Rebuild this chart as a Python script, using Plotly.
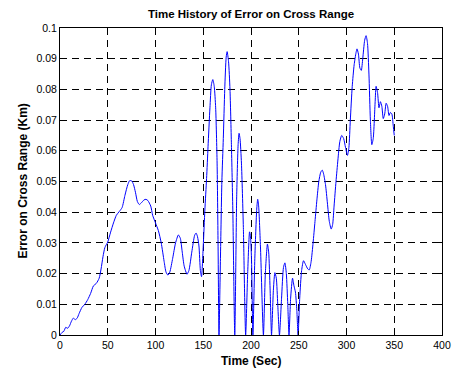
import plotly.graph_objects as go

time_sec = [0, 2, 4, 6, 8, 10, 12, 14, 16, 18, 20, 23, 26, 29, 32, 35, 38, 41, 43, 45,
            47, 50, 53, 56, 59, 62, 65, 68, 71, 73, 75, 77, 79, 81, 83, 85, 88, 90, 92, 95,
            97, 100, 103, 106, 109, 111, 113, 115, 118, 121, 124, 126, 128, 130, 133, 135, 138, 141, 142.5, 144,
            145.5, 147, 148.2, 150, 151.7, 153.5, 155, 157, 158.5, 160, 161.5, 163, 164.5, 165.5, 166.5, 168, 169.5, 171, 172.5, 174,
            175, 176.5, 178, 179.5, 181, 183, 185, 186.5, 187.5, 188.5, 190, 192, 194.4, 196.5, 198.5, 199.5, 200.5, 202, 204, 206,
            207, 208, 210, 213, 215, 217.2, 218.5, 220, 221.5, 223.5, 225, 226.5, 228, 229.8, 232, 234, 235.5, 237, 238.5, 239.8,
            241.5, 243.5, 245, 246.5, 248, 249.3, 251, 253, 255, 257, 259.5, 261, 263, 265, 267, 269, 271, 273, 274.6, 276,
            278, 280, 282, 284, 285.5, 287, 289, 291, 293, 295, 297, 299, 301, 302.5, 304, 306, 308, 310, 311, 312.5,
            314, 315.5, 317, 319, 320.5, 322, 323.5, 325, 326.5, 328, 330, 331, 332.5, 334, 335.5, 337, 338.5, 340, 341.5, 343,
            344.5, 346, 347.5, 349, 350]

error_km = [0.0, 0.0008, 0.0012, 0.0025, 0.0022, 0.0030, 0.0045, 0.0055, 0.0050, 0.0055, 0.0070, 0.0090, 0.0100, 0.0115, 0.0135, 0.0160, 0.0168, 0.0185, 0.0215, 0.0255,
            0.0285, 0.0303, 0.0335, 0.0365, 0.0390, 0.0402, 0.0415, 0.0455, 0.0490, 0.0503, 0.0502, 0.0490, 0.0465, 0.0435, 0.0425, 0.0430, 0.0440, 0.0442, 0.0438, 0.0420,
            0.0390, 0.0365, 0.0340, 0.0300, 0.0240, 0.0205, 0.0195, 0.0205, 0.0250, 0.0300, 0.0326, 0.0315, 0.0270, 0.0225, 0.0198, 0.0210, 0.0270, 0.0325, 0.0332, 0.0320,
            0.0290, 0.0210, 0.0190, 0.0290, 0.0407, 0.0510, 0.0613, 0.0740, 0.0815, 0.0832, 0.0810, 0.0740, 0.0560, 0.0300, 0.0, 0.0250, 0.0500, 0.0640, 0.0800, 0.0905,
            0.0923, 0.0890, 0.0800, 0.0620, 0.0400, 0.0, 0.0450, 0.0620, 0.0657, 0.0640, 0.0560, 0.0350, 0.0, 0.0200, 0.0336, 0.0320, 0.0250, 0.0, 0.0250, 0.0410,
            0.0442, 0.0420, 0.0280, 0.0, 0.0200, 0.0296, 0.0270, 0.0150, 0.0, 0.0150, 0.0203, 0.0185, 0.0100, 0.0, 0.0120, 0.0220, 0.0235, 0.0200, 0.0100, 0.0,
            0.0120, 0.0185, 0.0160, 0.0140, 0.0080, 0.0, 0.0120, 0.0210, 0.0242, 0.0230, 0.0215, 0.0212, 0.0240, 0.0300, 0.0370, 0.0440, 0.0500, 0.0530, 0.0537, 0.0525,
            0.0490, 0.0430, 0.0370, 0.0345, 0.0360, 0.0420, 0.0500, 0.0570, 0.0630, 0.0650, 0.0640, 0.0610, 0.0585, 0.0610, 0.0700, 0.0810, 0.0880, 0.0920, 0.0932, 0.0915,
            0.0870, 0.0862, 0.0900, 0.0960, 0.0975, 0.0950, 0.0850, 0.0700, 0.0620, 0.0640, 0.0760, 0.0810, 0.0790, 0.0740, 0.0760, 0.0745, 0.0705, 0.0720, 0.0755, 0.0745,
            0.0715, 0.0725, 0.0720, 0.0680, 0.0650]

x_ticks = [0, 50, 100, 150, 200, 250, 300, 350, 400]
y_ticks = [0, 0.01, 0.02, 0.03, 0.04, 0.05, 0.06, 0.07, 0.08, 0.09, 0.1]
y_tick_text = ["0", "0.01", "0.02", "0.03", "0.04", "0.05", "0.06", "0.07", "0.08", "0.09", "0.1"]

FONT = "Liberation Sans, Arial, sans-serif"

fig = go.Figure()
fig.add_trace(go.Scatter(x=time_sec, y=error_km, mode="lines",
                         line=dict(color="#0000ff", width=1, shape="spline", smoothing=0.6),
                         showlegend=False, hoverinfo="skip"))

axis_common = dict(showline=True, linecolor="black", linewidth=1, mirror="ticks",
                   ticks="inside", ticklen=4, tickcolor="black",
                   showgrid=True, gridcolor="black", gridwidth=1, griddash="7px,5px",
                   zeroline=False, tickfont=dict(family=FONT, size=10.5, color="black"))

fig.update_xaxes(range=[0, 400], tickvals=x_ticks, **axis_common)
fig.update_yaxes(range=[0, 0.1], tickvals=y_ticks, ticktext=y_tick_text, **axis_common)

fig.update_layout(
    width=462, height=371,
    margin=dict(l=60, r=11, t=28, b=36),
    paper_bgcolor="white", plot_bgcolor="white",
    title=dict(text="<b>Time History of Error on Cross Range</b>", x=0.5, xref="paper", xanchor="center",
               y=1 - 14 / 371, yanchor="middle", yref="container",
               font=dict(family=FONT, size=11.5, color="black")),
    annotations=[
        dict(text="<b>Time (Sec)</b>", xref="paper", yref="paper", x=0.5, y=0,
             xanchor="center", yanchor="middle", yshift=-26, showarrow=False,
             font=dict(family=FONT, size=12, color="black")),
        dict(text="<b>Error on Cross Range (Km)</b>", xref="paper", yref="paper", x=0, y=0.5,
             xanchor="center", yanchor="middle", xshift=-38, textangle=-90, showarrow=False,
             font=dict(family=FONT, size=12, color="black")),
    ],
)

fig.write_html("out.html")
